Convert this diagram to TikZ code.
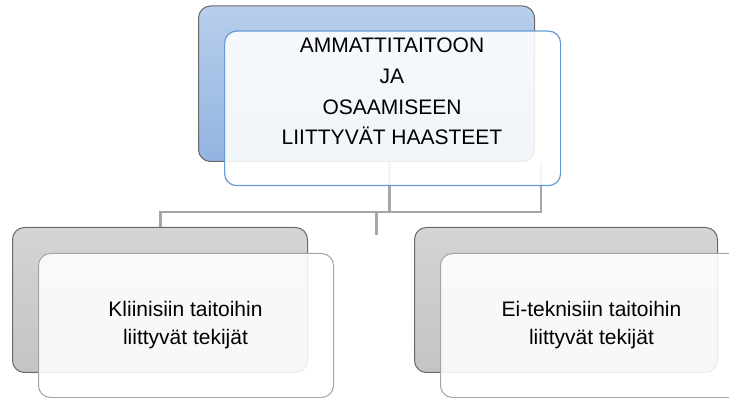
\documentclass[tikz,border=0pt]{standalone}
\usepackage{fontspec}
\setmainfont{Liberation Sans}
\usetikzlibrary{backgrounds}
\definecolor{linkgray}{RGB}{166,166,166}
\definecolor{blueedge}{RGB}{100,155,215}
\definecolor{bluetop}{RGB}{184,206,236}
\definecolor{bluebot}{RGB}{146,180,224}
\definecolor{greytop}{RGB}{212,212,212}
\definecolor{greybot}{RGB}{196,196,196}
\definecolor{darkedge}{RGB}{105,105,105}
\definecolor{lightedge}{RGB}{165,165,165}
\begin{document}
\begin{tikzpicture}[x=1pt,y=-1pt,
  box/.style={rectangle, rounded corners=12pt, inner sep=0pt, anchor=north west},
  backblue/.style={box, draw=darkedge, line width=1pt, top color=bluetop, bottom color=bluebot},
  backgrey/.style={box, draw=darkedge, line width=1pt, top color=greytop, bottom color=greybot},
  frontblue/.style={box, draw=blueedge, line width=1.2pt, fill=white, fill opacity=0.88, draw opacity=1},
  frontgrey/.style={box, draw=lightedge, line width=1pt, fill=white, fill opacity=0.88, draw opacity=1},
  headtext/.style={align=center, inner sep=0pt, font=\fontsize{21}{30.6}\selectfont},
  subtext/.style={align=center, inner sep=0pt, font=\fontsize{21}{28}\selectfont},
  link/.style={draw=linkgray, line width=2.8pt}]
\useasboundingbox (0,0) rectangle (729,398);

% top level: shaded back card with a lighter card in front
\node[backblue, minimum width=336pt, minimum height=155.5pt] (topback) at (198,5.5) {};
\node[frontblue, minimum width=336pt, minimum height=154.5pt] (topfront) at (224,30.5) {};
\node[headtext] (toptext) at (392,91.5) {AMMATTITAITOON\\JA\\OSAAMISEEN\\LIITTYVÄT HAASTEET};

% second level, left
\node[backgrey, minimum width=295pt, minimum height=145pt] (leftback) at (12,227) {};
\node[frontgrey, minimum width=295pt, minimum height=144pt] (leftfront) at (38,253) {};
\node[subtext] (lefttext) at (185.5,325.5) {Kliinisiin taitoihin\\liittyvät tekijät};

% second level, right
\node[backgrey, minimum width=303pt, minimum height=145pt] (rightback) at (414,227) {};
\node[frontgrey, minimum width=303pt, minimum height=144pt] (rightfront) at (440,253) {};
\node[subtext] (righttext) at (591.5,325.5) {Ei-teknisiin taitoihin\\liittyvät tekijät};

% connector bus behind the cards
\coordinate (dropA) at (389.5,212);
\coordinate (dropB) at (541,212);
\coordinate (busL) at (160.5,212);
\coordinate (stubtop) at (376.5,212);
\coordinate (stubend) at (376.5,235);
\begin{scope}[on background layer]
  \draw[link] (topback.south -| dropA) -- (dropA);
  \draw[link] (topback.south -| dropB) -- (dropB) -- (busL) -- (leftback.north -| busL);
  \draw[link] (stubtop) -- (stubend);
\end{scope}
\end{tikzpicture}
\end{document}
